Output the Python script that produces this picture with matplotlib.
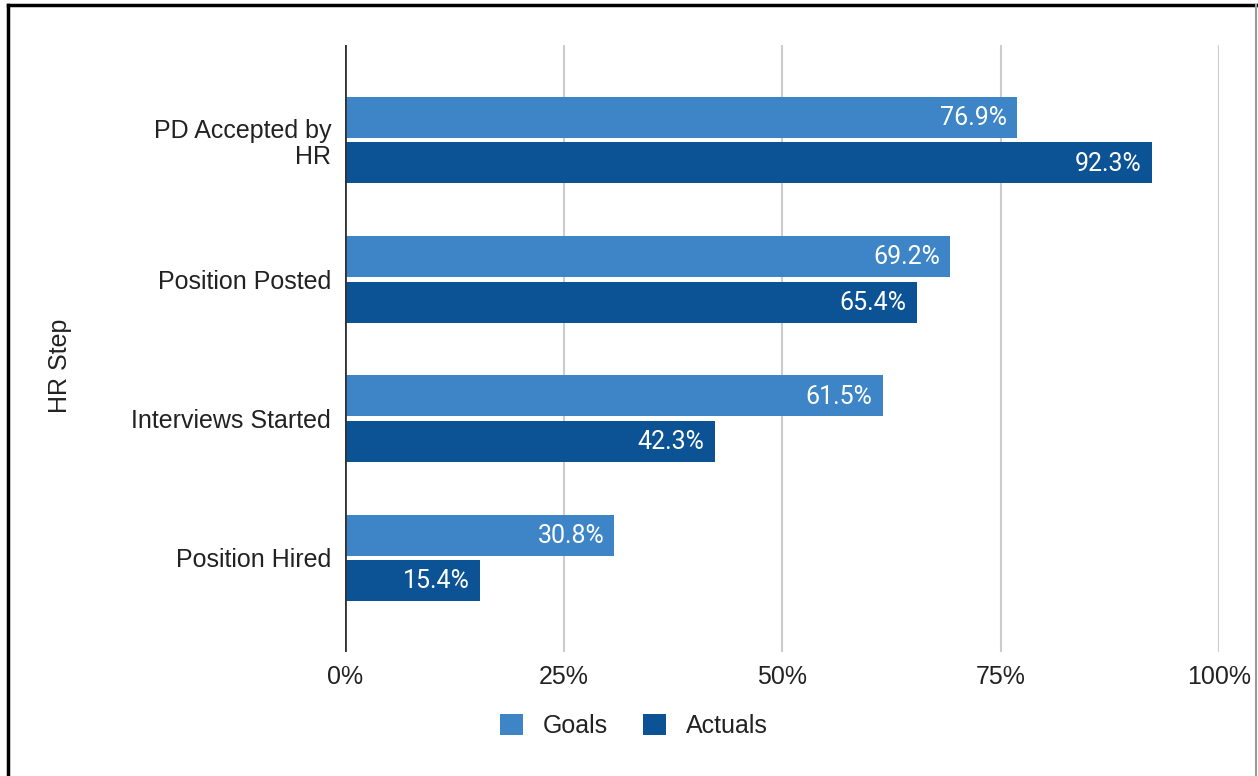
import numpy as np
import matplotlib.pyplot as plt
from matplotlib.patches import Patch
from matplotlib.lines import Line2D

# data
steps = ["PD Accepted by\nHR", "Position Posted", "Interviews Started", "Position Hired"]
goals = [76.9, 69.2, 61.5, 30.8]
actuals = [92.3, 65.4, 42.3, 15.4]
x_ticks = [0, 25, 50, 75, 100]
x_tick_labels = ["0%", "25%", "50%", "75%", "100%"]

GOAL_COLOR = "#3d85c6"
ACTUAL_COLOR = "#0b5394"
TEXT_COLOR = "#222222"
FS = 18

W, H = 1258, 776
fig = plt.figure(figsize=(W / 100, H / 100), dpi=100)
ax = fig.add_axes([345 / W, 1 - 652 / H, (1219 - 345) / W, (652 - 45) / H])

y = np.arange(len(steps))
bar_h = 0.295
off = 0.163

ax.barh(y - off, goals, height=bar_h, color=GOAL_COLOR, zorder=2)
ax.barh(y + off, actuals, height=bar_h, color=ACTUAL_COLOR, zorder=2)

# labels inside the bars
pad = 1.15
for i in range(len(steps)):
    ax.text(goals[i] - pad, y[i] - off + 0.005, f"{goals[i]}%", ha="right", va="center",
            color="white", fontsize=FS, family="Roboto", zorder=3)
    ax.text(actuals[i] - pad, y[i] + off + 0.005, f"{actuals[i]}%", ha="right", va="center",
            color="white", fontsize=FS, family="Roboto", zorder=3)

ax.set_xlim(0, 100)
ax.set_ylim(len(steps) - 1 + 0.676, -0.683)

ax.set_xticks(x_ticks)
ax.set_xticklabels(x_tick_labels, family="Liberation Sans", fontsize=FS, color=TEXT_COLOR)
ax.set_yticks(y)
ax.set_yticklabels(steps, family="Liberation Sans", fontsize=FS, color=TEXT_COLOR,
                   linespacing=1.12)
ax.tick_params(axis="both", length=0)
ax.tick_params(axis="y", pad=10)
ax.tick_params(axis="x", pad=9)

ax.grid(axis="x", color="#cccccc", linewidth=1.5, zorder=0)
for s in ax.spines.values():
    s.set_visible(False)
ax.axvline(0, color="#333333", linewidth=2, zorder=4)

fig.text(60 / W, 1 - 366 / H, "HR Step", rotation=90, ha="center", va="center",
         family="Liberation Sans", fontsize=FS, color=TEXT_COLOR)

handles = [Patch(facecolor=GOAL_COLOR, label="Goals"),
           Patch(facecolor=ACTUAL_COLOR, label="Actuals")]
leg = fig.legend(handles=handles, loc="center", bbox_to_anchor=(634 / W, 1 - 726 / H),
                 ncol=2, frameon=False, handlelength=0.9, handleheight=0.9,
                 handletextpad=0.8, columnspacing=1.4,
                 prop={"family": "Liberation Sans", "size": FS})
for t in leg.get_texts():
    t.set_color(TEXT_COLOR)

# outer frame
fig.add_artist(Line2D([8 / W, 8 / W], [0, 1 - 5 / H], color="black", linewidth=2.5))
fig.add_artist(Line2D([8 / W, 1], [1 - 5 / H, 1 - 5 / H], color="black", linewidth=2.5))
fig.add_artist(Line2D([1256 / W, 1256 / W], [0, 1 - 5 / H], color="#999999", linewidth=1.5))

fig.savefig("out.png", dpi=100)
